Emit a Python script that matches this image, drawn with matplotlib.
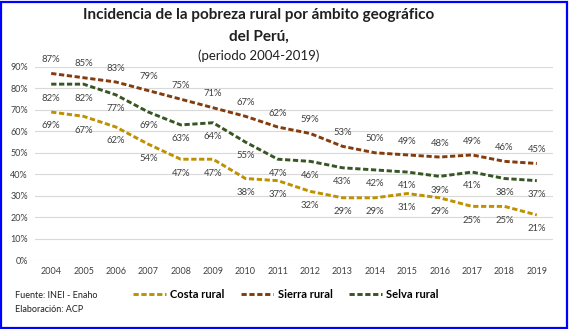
import matplotlib.pyplot as plt
from matplotlib.patches import Rectangle

plt.rcParams['font.family'] = ['Lato', 'DejaVu Sans']

# Incidencia de pobreza rural (%), INEI - Enaho
years = list(range(2004, 2020))
costa = [69, 67, 62, 54, 47, 47, 38, 37, 32, 29, 29, 31, 29, 25, 25, 21]
sierra = [87, 85, 83, 79, 75, 71, 67, 62, 59, 53, 50, 49, 48, 49, 46, 45]
selva = [82, 82, 77, 69, 63, 64, 55, 47, 46, 43, 42, 41, 39, 41, 38, 37]
yticks = [0, 10, 20, 30, 40, 50, 60, 70, 80, 90]

W, H = 569, 329
fig = plt.figure(figsize=(W / 100, H / 100), dpi=100)
ax = fig.add_axes([35 / W, 1 - 260 / H, (553 - 35) / W, (260 - 67) / H])

series = [
    ('Costa rural', costa, '#BF9000', -1),
    ('Sierra rural', sierra, '#843C0C', 1),
    ('Selva rural', selva, '#375623', -1),
]
for name, vals, col, side in series:
    ax.plot(years, vals, color=col, lw=2.1, ls=(0, (1.8, 0.9)), label=name,
            solid_capstyle='butt', dash_capstyle='butt')
    for x, v in zip(years, vals):
        ax.annotate(f'{v}%', (x, v), xytext=(0, 10 * side), textcoords='offset points',
                    ha='center', va='center', fontsize=6.8, color='#404040')

ax.set_xlim(2003.5, 2019.5)
ax.set_ylim(0, 90)
ax.set_xticks(years)
ax.set_xticklabels([str(y) for y in years], fontsize=6.5, color='#404040')
ax.set_yticks(yticks)
ax.set_yticklabels([f'{t}%' for t in yticks], fontsize=6.5, color='#404040')
ax.tick_params(length=0, pad=5)
ax.grid(axis='y', color='#D9D9D9', lw=0.8)
ax.set_axisbelow(True)
for s in ax.spines.values():
    s.set_visible(False)

# titles
fig.text(259 / W, 1 - 15 / H, 'Incidencia de la pobreza rural por ámbito geográfico',
         ha='center', va='center', fontsize=11, fontweight='bold', color='#202020')
fig.text(259 / W, 1 - 37 / H, 'del Perú,', ha='center', va='center',
         fontsize=11, fontweight='bold', color='#202020')
fig.text(259 / W, 1 - 56 / H, '(periodo 2004-2019)', ha='center', va='center',
         fontsize=9.5, color='#202020')

# source notes
fig.text(15 / W, 1 - 296 / H, 'Fuente: INEI - Enaho', ha='left', va='center',
         fontsize=6.5, color='#202020')
fig.text(15 / W, 1 - 309 / H, 'Elaboración: ACP', ha='left', va='center',
         fontsize=6.5, color='#202020')

leg = fig.legend(loc='center', bbox_to_anchor=(286 / W, 1 - 294 / H), ncol=3,
                 frameon=False, handlelength=2.9, columnspacing=1.5, handletextpad=0.4,
                 prop={'size': 8, 'weight': 'bold'})

# blue frame around the figure
fig.patches.append(Rectangle((1 / W, 1 / H), (W - 3) / W, (H - 3) / H,
                             transform=fig.transFigure, fill=False,
                             edgecolor='#0000FF', lw=1.6))

fig.savefig('out.png', dpi=100)
